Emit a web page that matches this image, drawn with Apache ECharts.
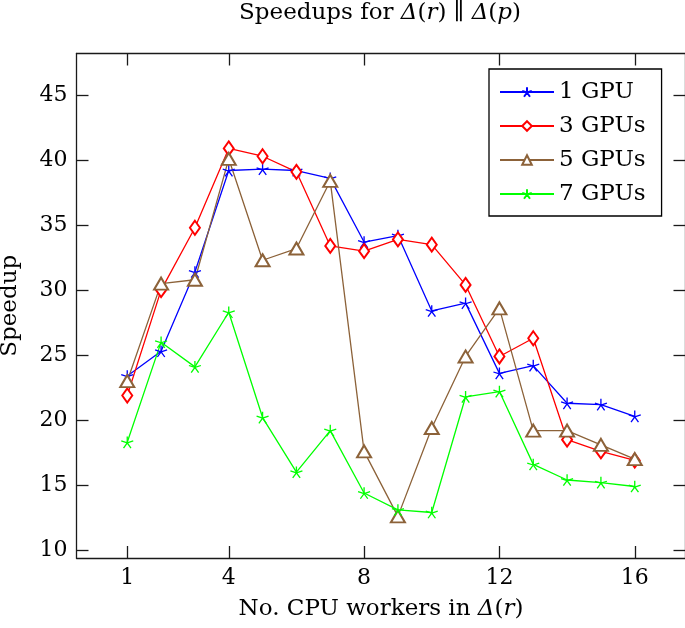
<!DOCTYPE html>
<html>
<head>
<meta charset="utf-8">
<script src="https://cdn.jsdelivr.net/npm/echarts@6/dist/echarts.min.js"></script>
<style>
html,body{margin:0;padding:0;background:#fff;}
#chart{width:685px;height:628px;}
</style>
</head>
<body>
<div id="chart"></div>
<script>
var workers = [1, 2, 3, 4, 5, 6, 7, 8, 9, 10, 11, 12, 13, 14, 15, 16];
var gpu1 = [23.4, 25.3, 31.4, 39.2, 39.3, 39.2, 38.6, 33.7, 34.2, 28.4, 29.0, 23.6, 24.2, 21.3, 21.2, 20.3];
var gpu3 = [21.9, 30.0, 34.8, 40.9, 40.3, 39.1, 33.4, 33.0, 33.9, 33.5, 30.4, 24.9, 26.3, 18.5, 17.6, 16.9];
var gpu5 = [23.0, 30.5, 30.8, 40.1, 32.3, 33.2, 38.4, 17.6, 12.6, 19.4, 24.9, 28.6, 19.2, 19.2, 18.1, 17.0];
var gpu7 = [18.3, 26.0, 24.1, 28.3, 20.2, 16.0, 19.2, 14.4, 13.1, 12.9, 21.8, 22.2, 16.6, 15.4, 15.2, 14.9];
var seriesNames = ['1 GPU', '3 GPUs', '5 GPUs', '7 GPUs'];
var xTicks = [1, 4, 8, 12, 16];
var yTicks = [10, 15, 20, 25, 30, 35, 40, 45];

var FONT = '"DejaVu Serif", "Liberation Serif", serif';
var FS = 22;
var FS2 = 23;
var AX = '#1a1a1a';
var star = 'path://M10 10 L10 0 M10 10 L19.51 6.91 M10 10 L15.88 18.09 M10 10 L4.12 18.09 M10 10 L0.49 6.91';

function pairs(arr) { return workers.map(function (w, i) { return [w, arr[i]]; }); }

var chart = echarts.init(document.getElementById('chart'), null, {renderer: 'canvas'});
var italic = {fontStyle: 'italic', fontFamily: FONT, fontSize: FS2, color: '#000'};

function xAx(pos, labels) {
  return {
    type: 'value', min: -0.5, max: 17.5, position: pos, gridIndex: 0,
    axisLine: {show: true, onZero: false, lineStyle: {color: AX, width: 1.3}},
    axisTick: {show: true, inside: true, length: 12, customValues: xTicks, lineStyle: {color: AX, width: 1.3}},
    axisLabel: {show: labels, customValues: xTicks, fontFamily: FONT, fontSize: FS, color: '#000', margin: 9},
    splitLine: {show: false}
  };
}
function yAx(pos, labels) {
  return {
    type: 'value', min: 9.4, max: 48.2, position: pos, gridIndex: 0,
    axisLine: {show: true, onZero: false, lineStyle: {color: AX, width: 1.3}},
    axisTick: {show: true, inside: true, length: 12, customValues: yTicks, lineStyle: {color: AX, width: 1.3}},
    axisLabel: {show: labels, customValues: yTicks, fontFamily: FONT, fontSize: FS, color: '#000', margin: 9},
    splitLine: {show: false}
  };
}
var xb = xAx('bottom', true);
xb.name = 'No. CPU workers in {i|Δ}({i|r})';
xb.nameLocation = 'middle';
xb.nameGap = 40;
xb.nameTextStyle = {fontFamily: FONT, fontSize: FS2, color: '#000', rich: {i: italic}};
var yl = yAx('left', true);
yl.name = 'Speedup';
yl.nameLocation = 'middle';
yl.nameGap = 55;
yl.nameTextStyle = {fontFamily: FONT, fontSize: FS2, color: '#000'};

var colors = ['#0000ff', '#ff0000', '#8c6239', '#00ff00'];
var symbols = [star, 'emptyDiamond', 'emptyTriangle', star];
var sizes = [[12, 11.5], [10, 14], [14, 12], [12, 11.5]];
var datas = [gpu1, gpu3, gpu5, gpu7];

var series = datas.map(function (d, i) {
  return {
    name: seriesNames[i], type: 'line', xAxisIndex: 0, yAxisIndex: 0,
    data: pairs(d), symbol: symbols[i], symbolSize: sizes[i], showAllSymbol: true,
    lineStyle: {color: colors[i], width: 1.3},
    itemStyle: {color: colors[i], borderColor: colors[i], borderWidth: 1.3},
    emphasis: {disabled: true}, animation: false
  };
});

chart.setOption({
  backgroundColor: '#fff',
  animation: false,
  grid: {left: 76.5, top: 53.5, width: 609, height: 504.5, containLabel: false, outerBoundsMode: 'none'},
  xAxis: [xb, xAx('top', false)],
  yAxis: [yl, yAx('right', false)],
  legend: {
    orient: 'vertical', left: 489, top: 69, data: seriesNames,
    backgroundColor: '#fff', borderColor: '#000', borderWidth: 1.3, borderRadius: 0,
    padding: [11, 16, 10, 10], itemWidth: 54, itemHeight: 12, itemGap: 10,
    textStyle: {fontFamily: FONT, fontSize: FS2, color: '#000', lineHeight: 24},
    selectedMode: false
  },
  graphic: [{
    type: 'text', x: 380, y: 13,
    style: {
      text: 'Speedups for {i|Δ}({i|r}) ∥ {i|Δ}({i|p})',
      fontFamily: FONT, fontSize: FS2, fill: '#000', align: 'center', verticalAlign: 'middle',
      rich: {i: {fontStyle: 'italic', fontFamily: FONT, fontSize: FS2}}
    }
  }],
  series: series
});
</script>
</body>
</html>
